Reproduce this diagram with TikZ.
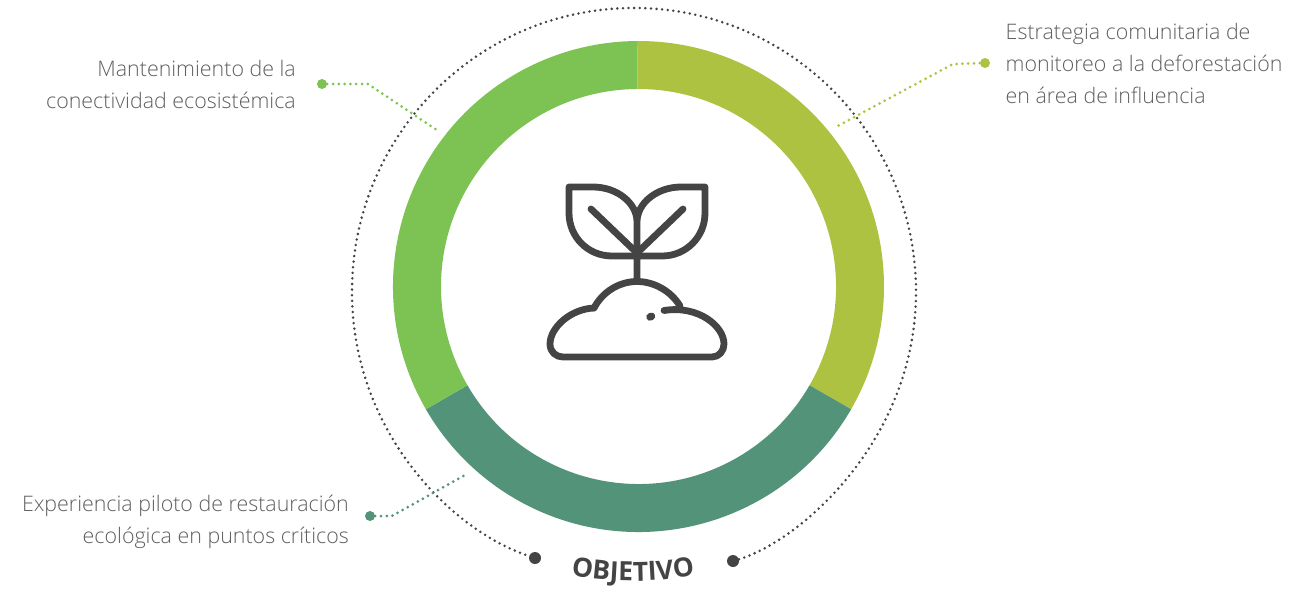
\documentclass[tikz,border=0pt]{standalone}
\usepackage{fontspec}
\setmainfont{Open Sans Light}[BoldFont={Open Sans Bold}]
\newfontfamily\objfont{Open Sans}[UprightFont={* Bold}]
\usetikzlibrary{decorations.text,calc}
\definecolor{gA}{HTML}{7DC353}
\definecolor{gB}{HTML}{AEC241}
\definecolor{gC}{HTML}{529379}
\definecolor{ink}{HTML}{444444}
\definecolor{txt}{HTML}{5F5F5F}
\tikzset{
  lab/.style={font=\fontsize{21.4}{32}\selectfont,text=txt,inner sep=0pt,align=#1},
  conn/.style={draw=#1,line width=3pt,line cap=round,dash pattern=on 0pt off 5.8pt},
  enddot/.style={circle,fill=#1,minimum size=10pt,inner sep=0pt},
  bigdot/.style={circle,fill=ink,minimum size=12pt,inner sep=0pt},
  icon/.style={draw=ink,line width=6.8pt,line cap=round,line join=round},
  orbit/.style={draw=ink,line width=2.8pt,line cap=round,dash pattern=on 0pt off 5.6pt},
  ringseg/.style={fill=#1}
}
\newcommand{\ringpart}[3]{\fill[ringseg=#1] ($(ringc)+(#2:245.5)$) arc[start angle=#2,end angle=#3,radius=245.5] -- ($(ringc)+(#3:197.5)$) arc[start angle=#3,end angle=#2,radius=197.5] -- cycle;}
\begin{document}
\begin{tikzpicture}[x=1pt,y=-1pt]
\useasboundingbox (0,0) rectangle (1316,594);
\coordinate (ringc) at (638.5,286.5);
\ringpart{gB}{-90.3}{30}
\ringpart{gC}{30}{150}
\ringpart{gA}{150}{269.7}
% orbit
\node[bigdot] (orbL) at (535,558) {};
\node[bigdot] (orbR) at (733,561) {};
\draw[orbit] (orbR) .. controls (800,541) and (916,440) .. (916,292)
  .. controls (916,135) and (790,8) .. (634,8)
  .. controls (478,8) and (352,135) .. (352,292)
  .. controls (352,430) and (450,530) .. (orbL);
% title
\coordinate (arcc) at (633,251);
\path[decorate,decoration={text along path,text align=center,text={|\objfont\fontsize{26.5}{26.5}\selectfont\color{ink}|OBJETIVO}}]
  ($(arcc)+(115:330)$) arc[start angle=115,end angle=65,radius=330];
% labels
\node[lab=right,anchor=north east] (t1) at (296,60.5) {Mantenimiento de la\\conectividad ecosistémica};
\node[lab=left,anchor=north west] (t2) at (1005.5,23) {Estrategia comunitaria de\\monitoreo a la deforestación\\en área de influencia};
\node[lab=right,anchor=north east] (t3) at (349,494.5) {Experiencia piloto de restauración\\ecológica en puntos críticos};
% connectors
\node[enddot=gA] (d1) at (322,84) {};
\node[enddot=gB] (d2) at (985,63) {};
\node[enddot=gC] (d3) at (370,516) {};
\coordinate (e1) at (436,129.5);
\coordinate (e2) at (834,128);
\coordinate (e3) at (465,475);
\draw[conn=gA] (d1) -- (368,84) -- (e1);
\draw[conn=gB] (d2) -- (953,64) -- (e2);
\draw[conn=gC] (d3) -- (392,516) -- (e3);
% icon
\begin{scope}[icon]
\draw (637,222) .. controls (637,203) and (617,187) .. (593,187) -- (569,187)
  -- (569,213) .. controls (569,237) and (588,256) .. (612,256) -- (662,256)
  .. controls (686,256) and (705,237) .. (705,213) -- (705,187) -- (681,187)
  .. controls (657,187) and (637,203) .. (637,222) -- (637,281);
\draw (591,209) -- (637,253) -- (683,209);
\draw (594,308) .. controls (603,291) and (620,281.5) .. (637,281.5)
  .. controls (654,281.5) and (671,291) .. (680,306);
\draw (594,308) .. controls (570,309) and (550,328) .. (550,344)
  .. controls (550,352) and (556,357) .. (563,357) -- (712,357)
  .. controls (719,357) and (724,351) .. (724,344)
  .. controls (724,326) and (698,305) .. (664,310.5);
\draw[line width=7.5pt] (650,317) -- (651.5,316.3);
\end{scope}
\end{tikzpicture}
\end{document}
